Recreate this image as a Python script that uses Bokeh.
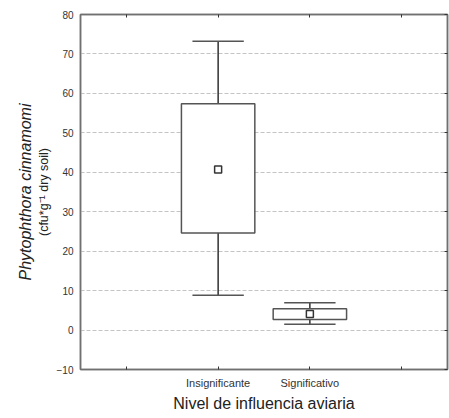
import numpy as np
from bokeh.plotting import figure
from bokeh.models import (LinearAxis, FixedTicker, Range1d, Title)
from bokeh.embed import file_html
from bokeh.resources import INLINE

# ---- data ----
categories = ["Insignificante", "Significativo"]
positions = [1, 2]
whisker_low = [8.8, 1.5]
box_low = [24.6, 2.7]
means = [40.7, 4.1]
box_high = [57.4, 5.4]
whisker_high = [73.2, 6.9]
y_ticks = [-10, 0, 10, 20, 30, 40, 50, 60, 70, 80]
x_ticks = [0, 1, 2, 3]

FONT = "Liberation Sans"
AXC = "#707070"
TXT = "#333333"

p = figure(width=449, height=418, x_range=Range1d(-0.5, 3.5), y_range=Range1d(-10, 80),
           output_backend="svg", toolbar_location=None,
           min_border_left=80, min_border_right=2, min_border_top=14, min_border_bottom=49)
p.background_fill_color = "white"
p.border_fill_color = "white"
p.outline_line_color = AXC
p.outline_line_width = 1.5

# grid
p.xgrid.grid_line_color = None
p.ygrid.ticker = FixedTicker(ticks=y_ticks)
p.ygrid.grid_line_color = "#c4c4c4"
p.ygrid.grid_line_dash = "4 2"
p.ygrid.grid_line_width = 1

# left axis (tick labels + second title line)
ya = p.yaxis[0]
ya.ticker = FixedTicker(ticks=y_ticks)
ya.axis_line_color = AXC
ya.axis_line_width = 1.5
ya.major_tick_out = 0
ya.major_tick_in = 0
ya.minor_tick_out = 0
ya.minor_tick_in = 0
ya.major_label_standoff = 7
ya.major_label_text_font = FONT
ya.major_label_text_font_size = "10px"
ya.major_label_text_color = TXT
ya.axis_label = "(cfu*g\u207b\u00b9 dry soil)"
ya.axis_label_text_font = FONT
ya.axis_label_text_font_style = "normal"
ya.axis_label_text_font_size = "12.5px"
ya.axis_label_text_line_height = 0.8
ya.axis_label_text_color = "#222222"
ya.axis_label_standoff = 3

# outer left axis carrying the italic first title line
ya2 = LinearAxis(ticker=FixedTicker(ticks=[]))
ya2.axis_line_color = None
ya2.major_tick_out = 0
ya2.major_tick_in = 0
ya2.minor_tick_out = 0
ya2.minor_tick_in = 0
ya2.major_label_standoff = 0
ya2.axis_label = "Phytophthora cinnamomi"
ya2.axis_label_text_font = FONT
ya2.axis_label_text_font_style = "italic"
ya2.axis_label_text_font_size = "16px"
ya2.axis_label_text_line_height = 0.7
ya2.axis_label_text_color = "#222222"
ya2.axis_label_standoff = 0
p.add_layout(ya2, "left")

# bottom axis
xa = p.xaxis[0]
xa.ticker = FixedTicker(ticks=x_ticks)
xa.major_label_overrides = {0: "", 1: categories[0], 2: categories[1], 3: ""}
xa.axis_line_color = AXC
xa.axis_line_width = 1.5
xa.major_tick_out = 0
xa.major_tick_in = 3
xa.major_tick_line_color = "#333333"
xa.minor_tick_out = 0
xa.minor_tick_in = 0
xa.major_label_standoff = 7
xa.major_label_text_font = FONT
xa.major_label_text_font_size = "11px"
xa.major_label_text_color = TXT

# x title as a below-panel title
p.add_layout(Title(text="Nivel de influencia aviaria", align="center",
                   text_font=FONT, text_font_style="normal", text_font_size="16px",
                   text_color="#222222", standoff=2), "below")

# right and top axes (inward ticks only)
ra = LinearAxis(ticker=FixedTicker(ticks=y_ticks))
ta = LinearAxis(ticker=FixedTicker(ticks=x_ticks))
ra.major_label_overrides = {t: "" for t in y_ticks}
ta.major_label_overrides = {t: "" for t in x_ticks}
for ax in (ra, ta):
    ax.axis_line_color = AXC
    ax.axis_line_width = 1.5
    ax.major_tick_out = 0
    ax.major_tick_in = 3
    ax.major_tick_line_color = "#333333"
    ax.minor_tick_out = 0
    ax.minor_tick_in = 0
    ax.major_label_text_color = None
    ax.major_label_standoff = 0
p.add_layout(ra, "right")
p.add_layout(ta, "above")

# ---- box plot marks ----
pos = np.array(positions, dtype=float)
cap_half = 0.28
box_w = 0.8

p.segment(x0=pos, x1=pos, y0=box_high, y1=whisker_high, line_color="#111111", line_width=1.3)
p.segment(x0=pos, x1=pos, y0=whisker_low, y1=box_low, line_color="#111111", line_width=1.3)
p.segment(x0=pos - cap_half, x1=pos + cap_half, y0=whisker_high, y1=whisker_high,
          line_color="#555555", line_width=1.5)
p.segment(x0=pos - cap_half, x1=pos + cap_half, y0=whisker_low, y1=whisker_low,
          line_color="#555555", line_width=1.5)
p.vbar(x=pos, width=box_w, bottom=box_low, top=box_high, fill_color="white",
       line_color="#555555", line_width=1.5)
p.scatter(x=pos, y=means, marker="square", size=7, fill_color="white",
          line_color="#333333", line_width=1.5)

open("out.html", "w").write(file_html(p, INLINE))
